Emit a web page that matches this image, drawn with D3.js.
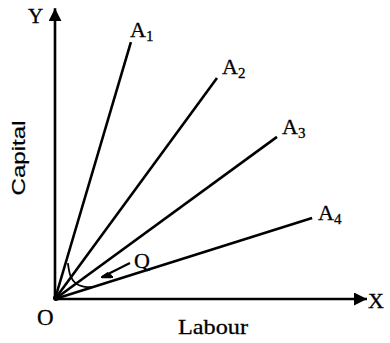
<!DOCTYPE html>
<html>
<head>
<meta charset="utf-8">
<script src="https://cdn.jsdelivr.net/npm/d3@7"></script>
<style>
html,body{margin:0;padding:0;background:#fff;}
svg{display:block;}
</style>
</head>
<body>
<svg id="c" width="390" height="343"></svg>
<script>
// Rays (expansion paths) from origin, end points in data units
const rayNames = ["A1", "A2", "A3", "A4"];
const rayEndX = [25.3, 54.0, 74.0, 85.7];
const rayEndY = [88.6, 76.2, 55.9, 27.9];
// Small isoquant near origin
const isoX = [4.3, 5.3, 7.0, 9.5, 12.7];
const isoY = [12.4, 7.6, 5.3, 4.3, 4.1];
// Q pointer (from, to)
const qArrowX = [25.0, 15.7];
const qArrowY = [12.4, 7.6];
const axisMax = [104, 100.3];

const svg = d3.select("#c");
const x = d3.scaleLinear().domain([0, 100]).range([55, 355]);
const y = d3.scaleLinear().domain([0, 100]).range([299, 9]);

const defs = svg.append("defs");
defs.append("marker").attr("id", "ah").attr("viewBox", "0 0 10 10")
  .attr("refX", 10).attr("refY", 5).attr("markerWidth", 5).attr("markerHeight", 5)
  .attr("markerUnits", "strokeWidth").attr("orient", "auto")
  .append("path").attr("d", "M0,0 L10,5 L0,10 Z").attr("fill", "#000");
defs.append("marker").attr("id", "qh").attr("viewBox", "0 0 10 10")
  .attr("refX", 9).attr("refY", 5).attr("markerWidth", 5).attr("markerHeight", 5)
  .attr("markerUnits", "strokeWidth").attr("orient", "auto")
  .append("path").attr("d", "M0,0 L10,5 L3,6 Z").attr("fill", "#000").attr("stroke", "#000").attr("stroke-width", 1.5);

const serif = "'Liberation Serif', 'DejaVu Serif', serif";
const sw = 2.6;

// axes
svg.append("line").attr("x1", x(0)).attr("y1", y(0)).attr("x2", x(axisMax[0])).attr("y2", y(0))
  .attr("stroke", "#000").attr("stroke-width", sw).attr("marker-end", "url(#ah)");
svg.append("line").attr("x1", x(0)).attr("y1", y(0)).attr("x2", x(0)).attr("y2", y(axisMax[1]))
  .attr("stroke", "#000").attr("stroke-width", sw).attr("marker-end", "url(#ah)");

// rays
rayNames.forEach((n, i) => {
  svg.append("line").attr("x1", x(0)).attr("y1", y(0))
    .attr("x2", x(rayEndX[i])).attr("y2", y(rayEndY[i]))
    .attr("stroke", "#000").attr("stroke-width", sw);
});
svg.append("circle").attr("cx", x(0) + 1).attr("cy", y(0) - 1).attr("r", 3).attr("fill", "#000");

// isoquant
const line = d3.line().x((d, i) => x(isoX[i])).y((d, i) => y(isoY[i])).curve(d3.curveCatmullRom);
svg.append("path").attr("d", line(isoX)).attr("fill", "none").attr("stroke", "#000").attr("stroke-width", 1.8);

// Q arrow
svg.append("line").attr("x1", x(qArrowX[0])).attr("y1", y(qArrowY[0]))
  .attr("x2", x(qArrowX[1])).attr("y2", y(qArrowY[1]))
  .attr("stroke", "#000").attr("stroke-width", 2.2).attr("marker-end", "url(#qh)");

// labels
const txt = (sel) => sel.attr("font-family", serif).attr("fill", "#000")
  .attr("stroke", "#000").attr("stroke-width", 0.3);
const lbl = [[130, 37], [222, 74], [282, 134], [318, 220]];
rayNames.forEach((n, i) => {
  const t = txt(svg.append("text").attr("x", lbl[i][0]).attr("y", lbl[i][1]).attr("font-size", 22));
  t.append("tspan").text(n[0]);
  t.append("tspan").attr("font-size", 15).attr("dy", 4).text(n[1]);
});
txt(svg.append("text").attr("x", x(qArrowX[0]) + 4).attr("y", y(qArrowY[0]) + 5).attr("font-size", 22)).text("Q");
txt(svg.append("text").attr("x", 28).attr("y", 23).attr("font-size", 21)).text("Y");
txt(svg.append("text").attr("x", 368).attr("y", 308).attr("font-size", 22)).text("X");
txt(svg.append("text").attr("x", 37).attr("y", 325).attr("font-size", 23)).text("O");
txt(svg.append("text").attr("x", 178).attr("y", 334).attr("font-size", 22)
  .attr("textLength", 70).attr("lengthAdjust", "spacingAndGlyphs")).text("Labour");
svg.append("text").attr("transform", "translate(25,158) rotate(-90)").attr("text-anchor", "middle")
  .attr("font-family", "'Liberation Sans', Arial, sans-serif").attr("font-size", 19)
  .attr("stroke", "#000").attr("stroke-width", 0.2)
  .attr("textLength", 75).attr("lengthAdjust", "spacingAndGlyphs").text("Capital");
</script>
</body>
</html>
